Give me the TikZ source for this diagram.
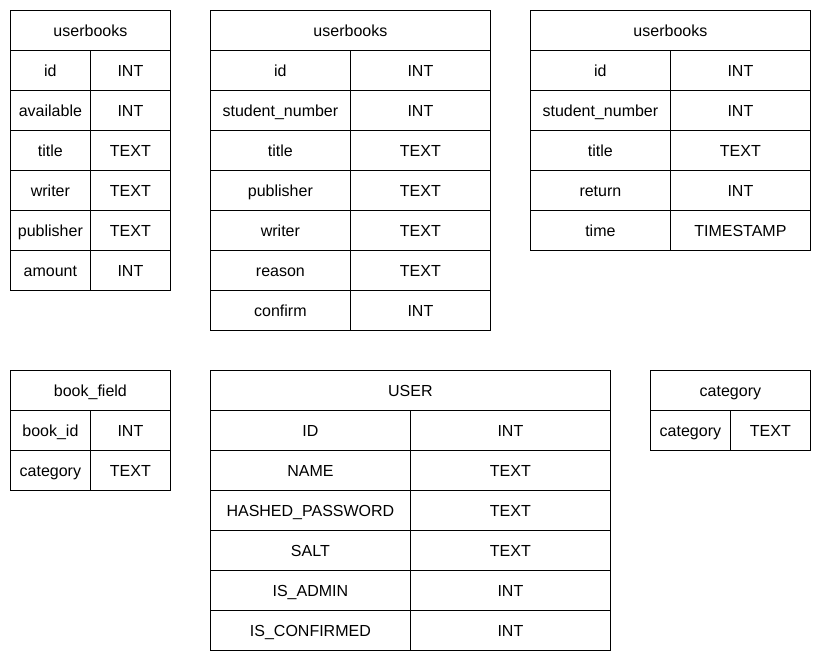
\documentclass[tikz,border=0pt]{standalone}
\usepackage{fontspec}
\setmainfont{Liberation Sans}
\tikzset{
  cell/.style={draw, line width=0.8pt, inner sep=0pt, minimum height=40pt, anchor=north west,
    text height=13.5pt, text depth=1.5pt, font=\fontsize{16}{19}\selectfont},
}
\begin{document}
\begin{tikzpicture}[x=1pt,y=-1pt]
\useasboundingbox (0,0) rectangle (821,660);

% userbooks, left
\node[cell, minimum width=160pt] (ubA) at (10,10) {userbooks};
\foreach \k/\t [count=\i] in {id/INT, available/INT, title/TEXT, writer/TEXT, publisher/TEXT, amount/INT}
{
	\node[cell, minimum width=80pt] (ubA-k\i) at (10, \i*40+10) {\k};
	\node[cell, minimum width=80pt] (ubA-t\i) at (90, \i*40+10) {\t};
}

% userbooks, middle
\node[cell, minimum width=280pt] (ubB) at (210,10) {userbooks};
\foreach \k/\t [count=\i] in {id/INT, student\_number/INT, title/TEXT, publisher/TEXT, writer/TEXT, reason/TEXT, confirm/INT}
{
	\node[cell, minimum width=140pt] (ubB-k\i) at (210, \i*40+10) {\k};
	\node[cell, minimum width=140pt] (ubB-t\i) at (350, \i*40+10) {\t};
}

% userbooks, right
\node[cell, minimum width=280pt] (ubC) at (530,10) {userbooks};
\foreach \k/\t [count=\i] in {id/INT, student\_number/INT, title/TEXT, return/INT, time/TIMESTAMP}
{
	\node[cell, minimum width=140pt] (ubC-k\i) at (530, \i*40+10) {\k};
	\node[cell, minimum width=140pt] (ubC-t\i) at (670, \i*40+10) {\t};
}

% book_field
\node[cell, minimum width=160pt] (bf) at (10,370) {book\_field};
\foreach \k/\t [count=\i] in {book\_id/INT, category/TEXT}
{
	\node[cell, minimum width=80pt] (bf-k\i) at (10, \i*40+370) {\k};
	\node[cell, minimum width=80pt] (bf-t\i) at (90, \i*40+370) {\t};
}

% USER
\node[cell, minimum width=400pt] (usr) at (210,370) {USER};
\foreach \k/\t [count=\i] in {ID/INT, NAME/TEXT, HASHED\_PASSWORD/TEXT, SALT/TEXT, IS\_ADMIN/INT, IS\_CONFIRMED/INT}
{
	\node[cell, minimum width=200pt] (usr-k\i) at (210, \i*40+370) {\k};
	\node[cell, minimum width=200pt] (usr-t\i) at (410, \i*40+370) {\t};
}

% category
\node[cell, minimum width=160pt] (cat) at (650,370) {category};
\node[cell, minimum width=80pt] (cat-k1) at (650,410) {category};
\node[cell, minimum width=80pt] (cat-t1) at (730,410) {TEXT};

\end{tikzpicture}
\end{document}
